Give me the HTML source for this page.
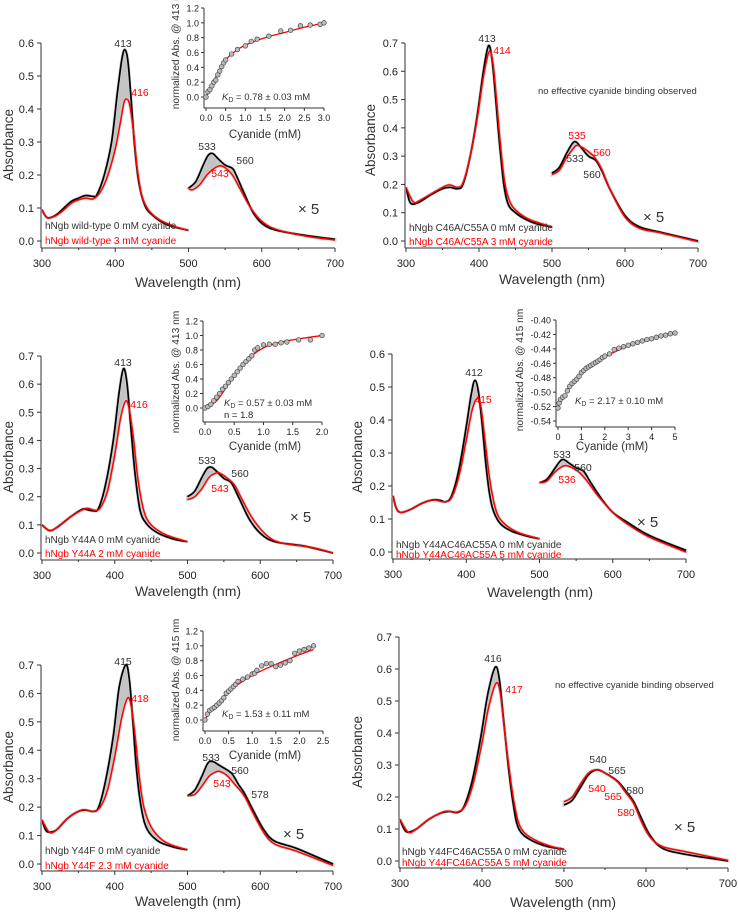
<!DOCTYPE html>
<html><head><meta charset="utf-8">
<style>
html,body{margin:0;padding:0;background:#fff;}
svg{display:block;font-family:"Liberation Sans",Arial,sans-serif;}
</style></head>
<body>
<svg id="fig" width="738" height="913" viewBox="0 0 738 913" xmlns="http://www.w3.org/2000/svg"></svg>
<script>
// ---------- DATA (wavelength nm, absorbance; Q-band values as displayed x5) ----------
const wlTicks = [300,400,500,600,700];
// Panel 1: wild-type
const p1SoretBlack = [[300,0.095],[305,0.075],[310,0.07],[320,0.08],[330,0.1],[340,0.12],[350,0.13],[360,0.138],[370,0.135],[375,0.14],[385,0.2],[395,0.3],[403,0.45],[409,0.55],[413,0.58],[417,0.55],[421,0.45],[426,0.3],[432,0.18],[440,0.11],[450,0.08],[470,0.05],[500,0.032]];
const p1SoretRed = [[300,0.095],[305,0.075],[310,0.07],[320,0.078],[330,0.095],[340,0.115],[350,0.125],[360,0.13],[370,0.128],[380,0.15],[390,0.2],[400,0.28],[407,0.36],[412,0.42],[416,0.43],[420,0.41],[425,0.33],[430,0.22],[436,0.14],[445,0.095],[460,0.065],[480,0.045],[500,0.032]];
const p1QBlack = [[500,0.16],[510,0.18],[520,0.23],[527,0.26],[533,0.265],[540,0.25],[550,0.23],[560,0.22],[565,0.2],[575,0.15],[590,0.08],[610,0.04],[650,0.02],[700,0.005]];
const p1QRed = [[500,0.16],[505,0.155],[515,0.17],[525,0.2],[535,0.22],[543,0.228],[550,0.222],[560,0.2],[570,0.16],[585,0.1],[600,0.06],[620,0.035],[660,0.015],[700,0.003]];
const p1InsetX = [0,0.05,0.1,0.15,0.2,0.25,0.3,0.35,0.4,0.45,0.5,0.65,0.8,1.0,1.15,1.3,1.6,1.9,2.15,2.4,2.65,2.9,3.0];
const p1InsetY = [0,0.07,0.1,0.15,0.2,0.23,0.3,0.35,0.41,0.46,0.5,0.58,0.64,0.69,0.75,0.78,0.82,0.89,0.9,0.96,0.97,0.98,1.0];
const p1FitX = [0,0.25,0.5,0.75,1,1.5,2,2.5,3];
const p1FitY = [0,0.27,0.5,0.62,0.7,0.8,0.87,0.94,1.0];
const p1InsetXTicks = ["0.0","0.5","1.0","1.5","2.0","2.5","3.0"];
const p1InsetYTicks = ["0.0","0.2","0.4","0.6","0.8","1.0","1.2"];
// Panel 2: C46A/C55A
const p2SoretBlack = [[300,0.19],[305,0.14],[310,0.13],[320,0.14],[335,0.165],[350,0.185],[360,0.19],[370,0.185],[378,0.2],[388,0.3],[398,0.45],[406,0.6],[413,0.69],[418,0.64],[423,0.5],[428,0.35],[434,0.2],[440,0.13],[450,0.1],[465,0.075],[480,0.06],[500,0.05]];
const p2SoretRed = [[300,0.19],[310,0.138],[320,0.145],[340,0.175],[358,0.198],[370,0.19],[378,0.205],[388,0.3],[398,0.44],[406,0.58],[414,0.67],[419,0.63],[424,0.5],[429,0.35],[435,0.21],[442,0.14],[452,0.105],[470,0.075],[500,0.05]];
const p2QBlack = [[500,0.24],[510,0.26],[520,0.31],[528,0.345],[533,0.35],[540,0.33],[550,0.3],[560,0.285],[568,0.25],[580,0.18],[600,0.09],[620,0.05],[650,0.03],[700,0.0]];
const p2QRed = [[500,0.235],[510,0.25],[520,0.295],[530,0.33],[535,0.338],[545,0.325],[555,0.305],[560,0.29],[568,0.255],[580,0.18],[600,0.085],[620,0.045],[650,0.028],[700,-0.002]];
// Panel 3: Y44A
const p3SoretBlack = [[300,0.1],[310,0.08],[320,0.09],[340,0.13],[355,0.155],[360,0.155],[370,0.15],[378,0.16],[388,0.25],[398,0.4],[406,0.57],[412,0.655],[417,0.6],[422,0.45],[428,0.28],[435,0.15],[445,0.1],[460,0.07],[480,0.05],[500,0.04]];
const p3SoretRed = [[300,0.1],[310,0.08],[320,0.09],[340,0.13],[360,0.158],[372,0.152],[380,0.16],[390,0.22],[400,0.35],[408,0.48],[415,0.54],[420,0.51],[426,0.4],[432,0.26],[440,0.15],[450,0.1],[470,0.065],[500,0.04]];
const p3QBlack = [[500,0.2],[510,0.22],[520,0.27],[527,0.3],[533,0.305],[540,0.29],[550,0.265],[560,0.25],[570,0.2],[585,0.12],[600,0.07],[620,0.04],[660,0.025],[700,0.0]];
const p3QRed = [[500,0.19],[510,0.2],[520,0.23],[530,0.27],[540,0.285],[545,0.283],[555,0.265],[565,0.24],[575,0.19],[590,0.12],[610,0.06],[630,0.035],[670,0.02],[700,0.0]];
const p3InsetX = [0,0.05,0.1,0.15,0.2,0.25,0.3,0.35,0.4,0.45,0.5,0.55,0.6,0.65,0.7,0.75,0.8,0.85,0.9,1.0,1.1,1.2,1.3,1.4,1.6,1.8,2.0];
const p3InsetY = [0,0.02,0.05,0.1,0.15,0.2,0.26,0.3,0.35,0.4,0.45,0.5,0.55,0.6,0.64,0.68,0.72,0.8,0.83,0.87,0.88,0.88,0.9,0.91,0.94,0.94,1.0];
const p3FitX = [0,0.2,0.4,0.6,0.8,1.0,1.25,1.5,2.0];
const p3FitY = [0,0.1,0.33,0.55,0.72,0.83,0.9,0.94,1.0];
const p3InsetXTicks = ["0.0","0.5","1.0","1.5","2.0"];
const p3InsetYTicks = ["0.0","0.2","0.4","0.6","0.8","1.0","1.2"];
// Panel 4: Y44AC46AC55A
const p4SoretBlack = [[300,0.17],[305,0.13],[312,0.12],[325,0.13],[340,0.148],[355,0.158],[365,0.156],[372,0.152],[380,0.17],[390,0.25],[400,0.38],[407,0.48],[412,0.52],[417,0.48],[422,0.38],[428,0.24],[435,0.14],[445,0.09],[460,0.065],[480,0.05],[500,0.04]];
const p4SoretRed = [[300,0.17],[305,0.13],[312,0.12],[325,0.13],[340,0.148],[355,0.158],[370,0.152],[380,0.165],[390,0.23],[400,0.34],[408,0.43],[415,0.465],[420,0.44],[426,0.33],[432,0.22],[440,0.13],[450,0.09],[470,0.06],[500,0.04]];
const p4QBlack = [[500,0.21],[510,0.22],[520,0.25],[528,0.275],[533,0.28],[540,0.27],[550,0.255],[560,0.245],[570,0.21],[585,0.16],[600,0.12],[620,0.09],[650,0.05],[700,0.005]];
const p4QRed = [[500,0.21],[510,0.215],[520,0.24],[530,0.258],[536,0.262],[545,0.255],[555,0.24],[565,0.215],[580,0.17],[600,0.12],[620,0.085],[650,0.045],[700,0.0]];
const p4InsetX = [0,0.05,0.1,0.2,0.3,0.4,0.5,0.6,0.7,0.8,0.9,1.0,1.1,1.2,1.3,1.4,1.5,1.6,1.7,1.8,1.9,2.0,2.2,2.4,2.6,2.8,3.0,3.2,3.4,3.6,3.8,4.0,4.2,4.4,4.6,4.8,5.0];
const p4InsetY = [-0.522,-0.515,-0.51,-0.507,-0.505,-0.498,-0.492,-0.488,-0.485,-0.482,-0.478,-0.473,-0.47,-0.467,-0.465,-0.463,-0.461,-0.459,-0.457,-0.455,-0.452,-0.45,-0.447,-0.441,-0.439,-0.437,-0.435,-0.433,-0.431,-0.429,-0.427,-0.426,-0.424,-0.422,-0.421,-0.419,-0.418];
const p4FitX = [1.9,2.5,3,3.5,4,4.5,5];
const p4FitY = [-0.453,-0.443,-0.436,-0.430,-0.425,-0.421,-0.418];
const p4InsetXTicks = ["0","1","2","3","4","5"];
const p4InsetYTicks = ["-0.54","-0.52","-0.50","-0.48","-0.46","-0.44","-0.42","-0.40"];
// Panel 5: Y44F
const p5SoretBlack = [[300,0.155],[305,0.12],[310,0.112],[320,0.12],[335,0.16],[350,0.185],[360,0.19],[370,0.185],[378,0.2],[388,0.3],[398,0.45],[406,0.62],[415,0.7],[420,0.65],[425,0.5],[430,0.33],[437,0.19],[445,0.12],[460,0.08],[480,0.06],[500,0.05]];
const p5SoretRed = [[300,0.155],[310,0.112],[320,0.12],[335,0.16],[355,0.19],[370,0.185],[380,0.2],[390,0.26],[400,0.38],[410,0.52],[418,0.585],[423,0.55],[428,0.45],[434,0.3],[440,0.2],[450,0.13],[465,0.085],[480,0.065],[500,0.05]];
const p5QBlack = [[500,0.24],[510,0.26],[520,0.31],[528,0.355],[535,0.36],[545,0.345],[555,0.33],[562,0.315],[570,0.28],[578,0.25],[590,0.19],[605,0.12],[620,0.08],[650,0.055],[700,0.0]];
const p5QRed = [[500,0.24],[510,0.245],[520,0.275],[530,0.31],[540,0.325],[545,0.325],[555,0.31],[565,0.28],[578,0.24],[590,0.18],[605,0.11],[620,0.07],[650,0.045],[700,-0.005]];
const p5InsetX = [0,0.05,0.1,0.15,0.2,0.25,0.3,0.35,0.4,0.45,0.5,0.55,0.6,0.65,0.7,0.8,0.9,1.0,1.05,1.1,1.2,1.3,1.4,1.5,1.6,1.7,1.8,1.9,2.0,2.1,2.2,2.3];
const p5InsetY = [0,0.08,0.13,0.15,0.17,0.2,0.23,0.26,0.3,0.36,0.39,0.42,0.45,0.48,0.52,0.55,0.58,0.62,0.63,0.67,0.73,0.76,0.76,0.72,0.74,0.77,0.8,0.9,0.93,0.95,0.97,1.0];
const p5FitX = [0,0.1,0.5,1,1.5,2,2.3];
const p5FitY = [0,0.1,0.38,0.6,0.75,0.88,0.95];
const p5InsetXTicks = ["0.0","0.5","1.0","1.5","2.0","2.5"];
const p5InsetYTicks = ["0.0","0.2","0.4","0.6","0.8","1.0","1.2"];
// Panel 6: Y44FC46AC55A
const p6SoretBlack = [[300,0.13],[305,0.1],[310,0.09],[320,0.1],[335,0.13],[350,0.15],[360,0.155],[370,0.152],[378,0.17],[388,0.25],[398,0.38],[407,0.52],[416,0.605],[421,0.57],[426,0.45],[432,0.3],[438,0.18],[445,0.1],[460,0.065],[480,0.045],[500,0.037]];
const p6SoretRed = [[300,0.13],[310,0.09],[320,0.1],[335,0.13],[355,0.155],[370,0.153],[380,0.175],[390,0.25],[400,0.37],[408,0.48],[417,0.555],[422,0.53],[427,0.42],[433,0.29],[440,0.17],[448,0.1],[465,0.065],[485,0.045],[500,0.037]];
const p6QBlack = [[500,0.175],[510,0.19],[520,0.23],[530,0.27],[540,0.285],[550,0.275],[565,0.25],[575,0.22],[585,0.185],[595,0.13],[605,0.08],[620,0.04],[650,0.02],[700,0.0]];
const p6QRed = [[500,0.185],[510,0.2],[520,0.24],[530,0.275],[540,0.285],[550,0.275],[565,0.248],[575,0.215],[585,0.18],[595,0.12],[605,0.075],[620,0.045],[650,0.028],[700,0.002]];

// ---------- DRAWING ----------
const NS="http://www.w3.org/2000/svg";
const svg=document.getElementById('fig');
function mk(tag,attrs,parent,txt){const e=document.createElementNS(NS,tag);for(const k in attrs)e.setAttribute(k,attrs[k]);if(txt!==undefined)e.textContent=txt;(parent||svg).appendChild(e);return e;}
function smooth(pts){let d="M"+pts[0][0].toFixed(1)+","+pts[0][1].toFixed(1);
  for(let i=0;i<pts.length-1;i++){const p0=pts[i-1]||pts[i],p1=pts[i],p2=pts[i+1],p3=pts[i+2]||p2;
    const c1x=p1[0]+(p2[0]-p0[0])/6,c1y=p1[1]+(p2[1]-p0[1])/6,c2x=p2[0]-(p3[0]-p1[0])/6,c2y=p2[1]-(p3[1]-p1[1])/6;
    d+="C"+c1x.toFixed(1)+","+c1y.toFixed(1)+" "+c2x.toFixed(1)+","+c2y.toFixed(1)+" "+p2[0].toFixed(1)+","+p2[1].toFixed(1);}
  return d;}
function txt(g,x,y,s,opt){opt=opt||{};const t=mk('text',{x:x,y:y,'font-size':opt.fs||11,fill:opt.fill||'#222','text-anchor':opt.anchor||'start'},g,s);
  if(opt.rot)t.setAttribute('transform','rotate(-90 '+x+' '+y+')');return t;}

function spectrumPanel(cfg){
  const g=mk('g',{});
  
  
  const X=w=>cfg.x300+(w-300)*(cfg.x700-cfg.x300)/400;
  const Y=a=>cfg.y0-a*(cfg.y0-cfg.yTop)/cfg.ymax;
  const axY=cfg.y0+7, axX=cfg.x300-1;
  const ax=mk('g',{stroke:'#333','stroke-width':1},g);
  
  mk('line',{x1:axX,y1:cfg.yTop,x2:axX,y2:axY},ax);
  const steps=Math.round(cfg.ymax/0.1);
  for(let i=0;i<=steps;i++){const v=i*0.1,y=Y(v);mk('line',{x1:axX-4,y1:y,x2:axX,y2:y},ax);
    txt(g,axX-7,y+4,v.toFixed(1),{anchor:'end',fs:11});}
  const xa=mk('g',{stroke:'#333','stroke-width':1},g);
  
  mk('line',{x1:axX,y1:axY,x2:X(700),y2:axY},xa);
  wlTicks.forEach(w=>{mk('line',{x1:X(w),y1:axY,x2:X(w),y2:axY+4},xa);txt(g,X(w),axY+19,String(w),{anchor:'middle',fs:11});});
  for(let w=350;w<700;w+=100)mk('line',{x1:X(w),y1:axY,x2:X(w),y2:axY+2},xa);
  [[cfg.sb,cfg.sr,'soret'],[cfg.qb,cfg.qr,'q-band']].forEach(([b,r,nm])=>{
    const pb=b.map(p=>[X(p[0]),Y(p[1])]),pr=r.map(p=>[X(p[0]),Y(p[1])]);
    const band=mk('path',{d:smooth(pb)+"L"+smooth(pr.slice().reverse()).slice(1)+"Z",fill:'#c4c4c4',stroke:'#d0d0d0','stroke-width':3},g);
    
    const lb=mk('path',{d:smooth(pb),fill:'none',stroke:'#000','stroke-width':1.7},g);
    
    const lr=mk('path',{d:smooth(pr),fill:'none',stroke:'#f00','stroke-width':1.5},g);
    
  });
  const xt=txt(g,cfg.xlab[0],cfg.xlab[1],'Wavelength (nm)',{anchor:'middle',fs:14,fill:'#333'});
  
  const yt=txt(g,cfg.ylab[0],cfg.ylab[1],'Absorbance',{anchor:'middle',fs:13.5,fill:'#333',rot:true});
  
  const l1=txt(g,cfg.leg[0],cfg.leg[1],cfg.legB,{fs:10,fill:'#333'});
  
  const l2=txt(g,cfg.leg[0],cfg.leg[2],cfg.legR,{fs:10,fill:'#f00'});
  
  cfg.labels.forEach(l=>{const t=txt(g,l[0],l[1],l[2],{anchor:l[4]||'middle',fs:l[5]||10.5,fill:l[3]==='r'?'#f00':'#333'});
    });
}

function insetPanel(cfg){
  const g=mk('g',{});
  
  
  const X=v=>cfg.x0+(v-cfg.xmin)*(cfg.x1-cfg.x0)/(cfg.xmax-cfg.xmin);
  const Y=v=>cfg.y0-(v-cfg.ymin)*(cfg.y0-cfg.y1)/(cfg.ymax-cfg.ymin);
  const axX=cfg.x0-2, axY=cfg.axY;
  const ax=mk('g',{stroke:'#333','stroke-width':1},g);
  
  mk('line',{x1:axX,y1:cfg.y1,x2:axX,y2:axY},ax);
  mk('line',{x1:axX,y1:axY,x2:X(cfg.xmax),y2:axY},ax);
  cfg.yt.forEach(s=>{const y=Y(parseFloat(s));mk('line',{x1:axX-3,y1:y,x2:axX,y2:y},ax);txt(g,axX-5,y+3.5,s,{anchor:'end',fs:9});});
  cfg.xt.forEach(s=>{const x=X(parseFloat(s));mk('line',{x1:x,y1:axY,x2:x,y2:axY+3},ax);txt(g,x,axY+13,s,{anchor:'middle',fs:9});});
  const fit=mk('path',{d:smooth(cfg.fx.map((v,i)=>[X(v),Y(cfg.fy[i])])),fill:'none',stroke:'#f00','stroke-width':1.3},g);
  
  cfg.px.forEach((v,i)=>{const c=mk('circle',{cx:X(v),cy:Y(cfg.py[i]),r:2.3,fill:'#bbb',stroke:'#444','stroke-width':0.7},g);
    });
  const xt=txt(g,cfg.xlab[0],cfg.xlab[1],'Cyanide (mM)',{anchor:'middle',fs:11.5,fill:'#333'});
  
  const yt=txt(g,cfg.ylab[0],cfg.ylab[1],cfg.ylabTxt,{anchor:'middle',fs:10.2,fill:'#333',rot:true});
  
  const kd=mk('text',{x:cfg.kd[0],y:cfg.kd[1],'font-size':9.5,fill:'#333'},g);
  
  mk('tspan',{'font-style':'italic'},kd,'K');mk('tspan',{'font-size':7,dy:2},kd,'D');mk('tspan',{dy:-2},kd,' = '+cfg.kdTxt);
  if(cfg.n){const t=txt(g,cfg.kd[0],cfg.kd[1]+12,cfg.n,{fs:9.5});}
}

spectrumPanel({name:'panel-wild-type',x300:42,x700:335,y0:241,yTop:43,ymax:0.6,sb:p1SoretBlack,sr:p1SoretRed,qb:p1QBlack,qr:p1QRed,
  xlab:[188,287],ylab:[13,145],leg:[45,229,244],legB:'hNgb wild-type 0 mM cyanide',legR:'hNgb wild-type 3 mM cyanide',
  labels:[[123,47,'413'],[140,96,'416','r'],[207,150,'533'],[245,164,'560'],[220,177,'543','r'],[298,214,'× 5','k','start',15]]});
insetPanel({name:'inset-wild-type',x0:206,x1:324,xmin:0,xmax:3,y0:97,y1:8,ymin:0,ymax:1.2,axY:108,px:p1InsetX,py:p1InsetY,fx:p1FitX,fy:p1FitY,
  xt:p1InsetXTicks,yt:p1InsetYTicks,xlab:[265,138],ylab:[179,48],ylabTxt:'normalized Abs. @ 413 nm',kd:[222,100],kdTxt:'0.78 ± 0.03 mM'});

spectrumPanel({name:'panel-c46a-c55a',x300:406,x700:698,y0:241,yTop:43,ymax:0.7,sb:p2SoretBlack,sr:p2SoretRed,qb:p2QBlack,qr:p2QRed,
  xlab:[552,284],ylab:[375,140],leg:[409,231,245],legB:'hNgb C46A/C55A 0 mM cyanide',legR:'hNgb C46A/C55A 3 mM cyanide',
  labels:[[487,42,'413'],[502,54,'414','r'],[538,94,'no effective cyanide binding observed','k','start',9.5],[577,139,'535','r'],[575,162,'533'],[602,156,'560','r'],[592,178,'560'],[643,222,'× 5','k','start',15]]});

spectrumPanel({name:'panel-y44a',x300:42,x700:333,y0:553,yTop:356,ymax:0.7,sb:p3SoretBlack,sr:p3SoretRed,qb:p3QBlack,qr:p3QRed,
  xlab:[188,596],ylab:[13,457],leg:[45,543,557],legB:'hNgb Y44A 0 mM cyanide',legR:'hNgb Y44A 2 mM cyanide',
  labels:[[123,366,'413'],[139,408,'416','r'],[207,464,'533'],[240,477,'560'],[220,492,'543','r'],[290,522,'× 5','k','start',15]]});
insetPanel({name:'inset-y44a',x0:205,x1:322,xmin:0,xmax:2,y0:408,y1:321,ymin:0,ymax:1.2,axY:422,px:p3InsetX,py:p3InsetY,fx:p3FitX,fy:p3FitY,
  xt:p3InsetXTicks,yt:p3InsetYTicks,xlab:[265,450],ylab:[179,372],ylabTxt:'normalized Abs. @ 413 nm',kd:[224,406],kdTxt:'0.57 ± 0.03 mM',n:'n = 1.8'});

spectrumPanel({name:'panel-y44a-c46a-c55a',x300:393,x700:686,y0:552,yTop:354,ymax:0.6,sb:p4SoretBlack,sr:p4SoretRed,qb:p4QBlack,qr:p4QRed,
  xlab:[540,597],ylab:[362,457],leg:[396,548,558],legB:'hNgb Y44AC46AC55A 0 mM cyanide',legR:'hNgb Y44AC46AC55A 5 mM cyanide',
  labels:[[474,376,'412'],[483,403,'415','r'],[562,458,'533'],[583,471,'560'],[567,483,'536','r'],[637,527,'× 5','k','start',15]]});
insetPanel({name:'inset-y44a-c46a-c55a',x0:558,x1:675,xmin:0,xmax:5,y0:421,y1:320,ymin:-0.54,ymax:-0.40,axY:427,px:p4InsetX,py:p4InsetY,fx:p4FitX,fy:p4FitY,
  xt:p4InsetXTicks,yt:p4InsetYTicks,xlab:[612,450],ylab:[523,370],ylabTxt:'normalized Abs. @ 415 nm',kd:[575,404],kdTxt:'2.17 ± 0.10 mM'});

spectrumPanel({name:'panel-y44f',x300:42,x700:333,y0:864,yTop:665,ymax:0.7,sb:p5SoretBlack,sr:p5SoretRed,qb:p5QBlack,qr:p5QRed,
  xlab:[188,906],ylab:[13,767],leg:[45,854,869],legB:'hNgb Y44F 0 mM cyanide',legR:'hNgb Y44F 2.3 mM cyanide',
  labels:[[123,665,'415'],[140,702,'418','r'],[211,761,'533'],[240,774,'560'],[222,787,'543','r'],[260,798,'578'],[283,839,'× 5','k','start',15]]});
insetPanel({name:'inset-y44f',x0:205,x1:323,xmin:0,xmax:2.5,y0:720,y1:631,ymin:0,ymax:1.2,axY:731,px:p5InsetX,py:p5InsetY,fx:p5FitX,fy:p5FitY,
  xt:p5InsetXTicks,yt:p5InsetYTicks,xlab:[265,759],ylab:[179,680],ylabTxt:'normalized Abs. @ 415 nm',kd:[222,717],kdTxt:'1.53 ± 0.11 mM'});

spectrumPanel({name:'panel-y44f-c46a-c55a',x300:400,x700:728,y0:861,yTop:637,ymax:0.7,sb:p6SoretBlack,sr:p6SoretRed,qb:p6QBlack,qr:p6QRed,
  xlab:[563,907],ylab:[362,752],leg:[402,855,866],legB:'hNgb Y44FC46AC55A 0 mM cyanide',legR:'hNgb Y44FC46AC55A 5 mM cyanide',
  labels:[[493,662,'416'],[514,693,'417','r'],[555,688,'no effective cyanide binding observed','k','start',9.5],[598,763,'540'],[617,774,'565'],[635,794,'580'],[597,792,'540','r'],[613,800,'565','r'],[626,816,'580','r'],[674,832,'× 5','k','start',15]]});
</script>
</body></html>
